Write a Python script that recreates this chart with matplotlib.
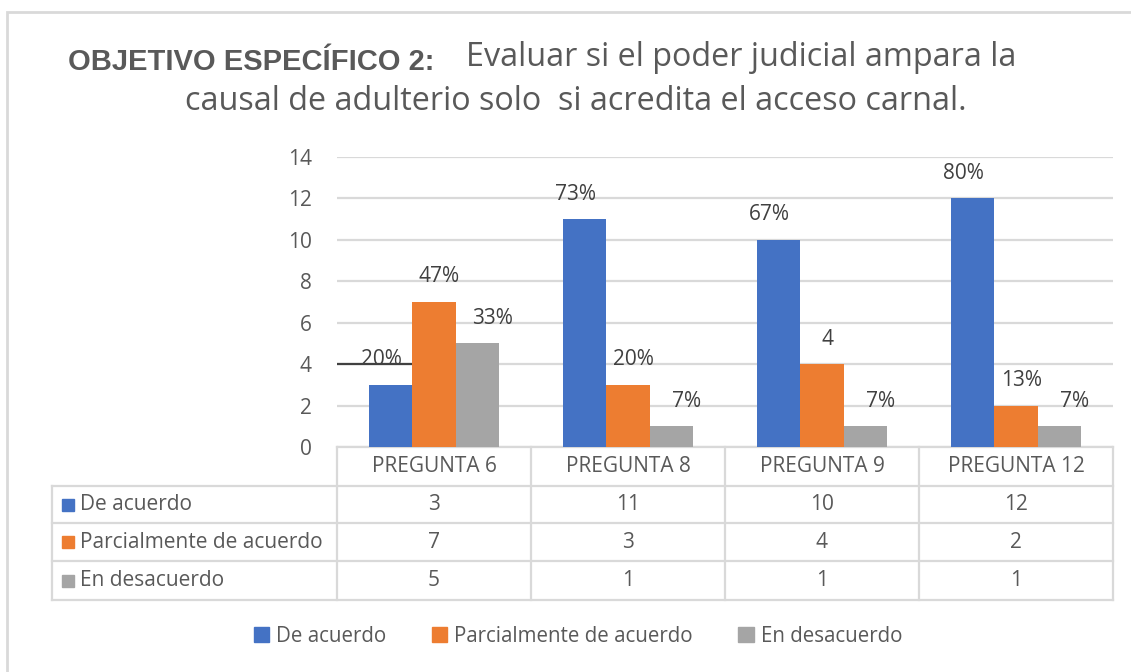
"""Excel-style grouped bars with a data table underneath (Objetivo específico 2)."""

import matplotlib.pyplot as plt
from matplotlib.patches import Rectangle
import numpy as np

plt.rcParams["font.family"] = ["Open Sans", "DejaVu Sans"]

categories = ["PREGUNTA 6", "PREGUNTA 8", "PREGUNTA 9", "PREGUNTA 12"]
series_names = ["De acuerdo", "Parcialmente de acuerdo", "En desacuerdo"]
de_acuerdo = [3, 11, 10, 12]
parcial = [7, 3, 4, 2]
desacuerdo = [5, 1, 1, 1]
labels_de_acuerdo = ["20%", "73%", "67%", "80%"]
labels_parcial = ["47%", "20%", "4", "13%"]
labels_desacuerdo = ["33%", "7%", "7%", "7%"]

BLUE = "#4472C4"
ORANGE = "#ED7D31"
GRAY = "#A5A5A5"
INK = "#595959"
LABEL_INK = "#404040"
GRID = "#D9D9D9"

W, H = 1131, 672
fig = plt.figure(figsize=(W / 100, H / 100), dpi=100)
ax = fig.add_axes([337 / W, 1 - 447 / H, 776 / W, 290 / H])

# outer chart frame (only top and left edges show)
fig.patches.append(Rectangle((7 / W, -0.2), 1.2, 1.2 - 12 / H, transform=fig.transFigure,
                             fill=False, edgecolor=GRID, linewidth=2))

values = [de_acuerdo, parcial, desacuerdo]
texts = [labels_de_acuerdo, labels_parcial, labels_desacuerdo]
colors = [BLUE, ORANGE, GRAY]
label_dx = [-7, 4, 11]
x = np.arange(len(categories))
width = 0.222

for i, (vals, labs, col) in enumerate(zip(values, texts, colors)):
    pos = x + (i - 1) * width
    ax.bar(pos, vals, width, color=col, zorder=3)
    for p, v, lab in zip(pos, vals, labs):
        ax.annotate(lab, (p, v), xytext=(label_dx[i], 18), textcoords="offset points",
                    ha="center", va="center", fontsize=15, color=LABEL_INK)

# stray mark at 4 on the first group
ax.hlines(4, -0.5, x[0] - width / 2, color="#404040", linewidth=1.6, zorder=4)

ax.set_xlim(-0.5, 3.5)
ax.set_ylim(0, 14)
ax.set_yticks(range(0, 15, 2))
ax.set_xticks([])
ax.yaxis.grid(True, color=GRID, linewidth=1.6, zorder=0)
ax.tick_params(axis="y", length=0, pad=18, labelsize=15, labelcolor=INK)
for s in ax.spines.values():
    s.set_visible(False)

# data table below the plot, in axes coords
row_y = [0, -39 / 290, -76 / 290, -114 / 290, -153 / 290]
left = (52 - 337) / 776
line_kw = dict(color=GRID, linewidth=1.6, clip_on=False, transform=ax.transAxes)
ax.plot([0, 1], [0, 0], **line_kw)
for y in row_y[1:]:
    ax.plot([left, 1], [y, y], **line_kw)
ax.plot([left, left], [row_y[1], row_y[-1]], **line_kw)
for k in range(len(categories) + 1):
    xb = k / len(categories)
    ax.plot([xb, xb], [0, row_y[-1]], **line_kw)

cell_kw = dict(transform=ax.transAxes, fontsize=15, color=INK, va="center", clip_on=False)
for k, cat in enumerate(categories):
    xc = (k + 0.5) / len(categories)
    ax.text(xc, (row_y[0] + row_y[1]) / 2, cat, ha="center", **cell_kw)
    for r, vals in enumerate(values):
        ax.text(xc, (row_y[r + 1] + row_y[r + 2]) / 2, str(vals[k]), ha="center", **cell_kw)

for r, (name, col) in enumerate(zip(series_names, colors)):
    yc = (row_y[r + 1] + row_y[r + 2]) / 2
    ax.add_patch(Rectangle((left + 10 / 776, yc - 6 / 290), 12 / 776, 12 / 290,
                           transform=ax.transAxes, color=col, clip_on=False))
    ax.text(left + 28 / 776, yc, name, ha="left", **cell_kw)

# legend
handles = [Rectangle((0, 0), 1, 1, color=c) for c in colors]
fig.legend(handles, series_names, loc="center", bbox_to_anchor=(578 / W, 1 - 636 / H),
           ncol=3, frameon=False, fontsize=14.8, labelcolor=INK,
           handlelength=0.75, handleheight=0.75, handletextpad=0.35, columnspacing=2.2)

# title
fig.text(68 / W, 1 - 62 / H, "OBJETIVO ESPECÍFICO 2:", fontsize=21, fontweight="bold",
         color=INK, ha="left", va="center", family=["Liberation Sans", "DejaVu Sans"])
fig.text(466 / W, 1 - 58 / H, "Evaluar si el poder judicial ampara la", fontsize=23.3,
         color=INK, ha="left", va="center")
fig.text(576 / W, 1 - 101 / H, "causal de adulterio solo  si acredita el acceso carnal.",
         fontsize=23.3, color=INK, ha="center", va="center")

fig.savefig("out.png", dpi=100)
